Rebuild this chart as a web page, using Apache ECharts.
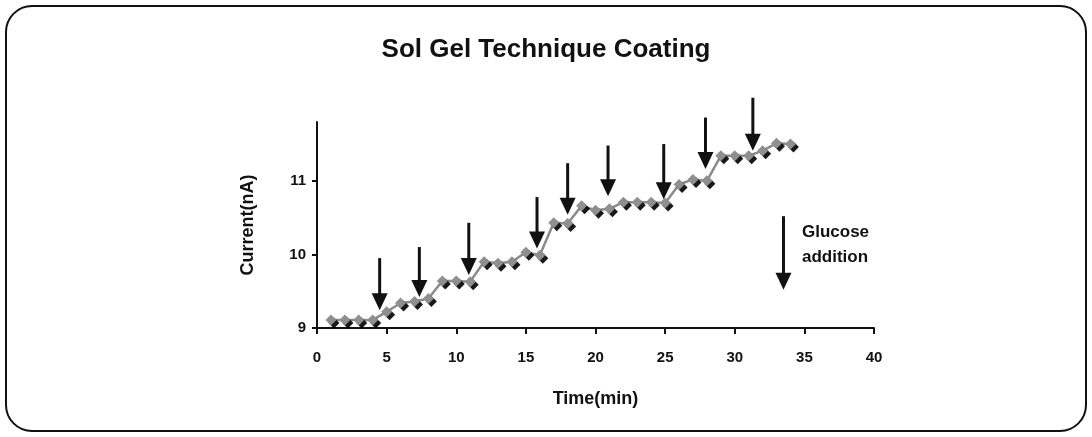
<!DOCTYPE html>
<html>
<head>
<meta charset="utf-8">
<script src="https://cdn.jsdelivr.net/npm/echarts@6/dist/echarts.min.js"></script>
<style>
  html, body { margin: 0; padding: 0; background: #fff; }
  #chart { width: 1092px; height: 437px; }
</style>
</head>
<body>
<div id="chart"></div>
<script>
const times = [1, 2, 3, 4, 5, 6, 7, 8, 9, 10, 11, 12, 13, 14, 15, 16, 17, 18, 19, 20, 21, 22, 23, 24, 25, 26, 27, 28, 29, 30, 31, 32, 33, 34]
const current = [9.11, 9.11, 9.11, 9.11, 9.22, 9.34, 9.36, 9.4, 9.64, 9.64, 9.63, 9.9, 9.88, 9.9, 10.03, 9.99, 10.43, 10.42, 10.66, 10.6, 10.62, 10.71, 10.71, 10.71, 10.7, 10.95, 11.02, 11.0, 11.34, 11.34, 11.34, 11.41, 11.51, 11.5]

// glucose additions: time, arrow top, arrow tip (nA)
const additionTimes = [4.5, 7.35, 10.9, 15.8, 18.0, 20.9, 24.9, 27.9, 31.3]
const arrowTops = [9.95, 10.1, 10.43, 10.78, 11.24, 11.48, 11.5, 11.86, 12.13]
const arrowTips = [9.24, 9.42, 9.72, 10.08, 10.54, 10.79, 10.75, 11.16, 11.41]

// legend arrow
const keyArrow = [33.5, 10.52, 9.52]

const xTicks = [0, 5, 10, 15, 20, 25, 30, 35, 40]
const yTicks = [9, 10, 11]

const font = '"Liberation Sans", Arial, sans-serif'
const chart = echarts.init(document.getElementById('chart'))

const arrowData = additionTimes.map((t, i) => [t, arrowTops[i], arrowTips[i]])
arrowData.push(keyArrow)

const renderArrow = (params, api) => {
  const top = api.coord([api.value(0), api.value(1)])
  const tip = api.coord([api.value(0), api.value(2)])
  const headH = 17
  const headW = 8
  return {
    type: 'group',
    children: [
      {
        type: 'line',
        shape: { x1: top[0], y1: top[1], x2: tip[0], y2: tip[1] - headH + 2 },
        style: { stroke: '#111', lineWidth: 3 },
      },
      {
        type: 'polygon',
        shape: {
          points: [
            [tip[0] - headW, tip[1] - headH],
            [tip[0] + headW, tip[1] - headH],
            [tip[0], tip[1]],
          ],
        },
        style: { fill: '#111' },
      },
    ],
  }
}

chart.setOption({
  animation: false,
  backgroundColor: '#fff',
  title: {
    text: 'Sol Gel Technique Coating',
    left: 'center',
    top: 32,
    textStyle: { fontFamily: font, fontSize: 26, fontWeight: 'bold', color: '#111' },
  },
  grid: { left: 317, right: 218, top: 122, bottom: 109 },
  xAxis: {
    type: 'value',
    min: 0,
    max: 40,
    interval: 5,
    name: 'Time(min)',
    nameLocation: 'middle',
    nameGap: 62,
    nameTextStyle: { fontFamily: font, fontSize: 18, fontWeight: 'bold', color: '#111' },
    axisLine: { lineStyle: { color: '#111', width: 2 } },
    axisTick: { length: 6, lineStyle: { color: '#111', width: 2 } },
    axisLabel: { fontFamily: font, fontSize: 15, fontWeight: 'bold', color: '#111', margin: 22 },
    splitLine: { show: false },
  },
  yAxis: {
    type: 'value',
    min: 9,
    max: 11.8,
    name: 'Current(nA)',
    nameLocation: 'middle',
    nameGap: 60,
    nameRotate: 90,
    nameTextStyle: { fontFamily: font, fontSize: 18, fontWeight: 'bold', color: '#111' },
    axisLine: { show: true, lineStyle: { color: '#111', width: 2 } },
    axisTick: { show: true, length: 5, customValues: yTicks, lineStyle: { color: '#111', width: 2 } },
    axisLabel: { customValues: yTicks, fontFamily: font, fontSize: 15, fontWeight: 'bold', color: '#111', margin: 11 },
    splitLine: { show: false },
  },
  graphic: [
    {
      type: 'rect',
      shape: { x: 6, y: 6, width: 1080, height: 425, r: 26 },
      style: { fill: 'none', stroke: '#111', lineWidth: 2 },
      silent: true,
    },
    {
      type: 'text',
      left: 802,
      top: 220,
      style: {
        text: 'Glucose\naddition',
        font: 'bold 17px ' + font,
        fill: '#111',
        lineHeight: 25,
      },
    },
  ],
  series: [
    {
      type: 'line',
      data: times.map((t, i) => [t, current[i]]),
      symbol: 'diamond',
      symbolSize: 11,
      lineStyle: { color: '#8a8a8a', width: 2.5 },
      itemStyle: {
        color: '#8f8f8f',
        shadowColor: 'rgba(0,0,0,0.9)',
        shadowOffsetX: 3,
        shadowOffsetY: 3,
        shadowBlur: 0,
      },
      z: 3,
    },
    {
      type: 'custom',
      renderItem: renderArrow,
      data: arrowData,
      clip: false,
      z: 4,
    },
  ],
})
</script>
</body>
</html>
